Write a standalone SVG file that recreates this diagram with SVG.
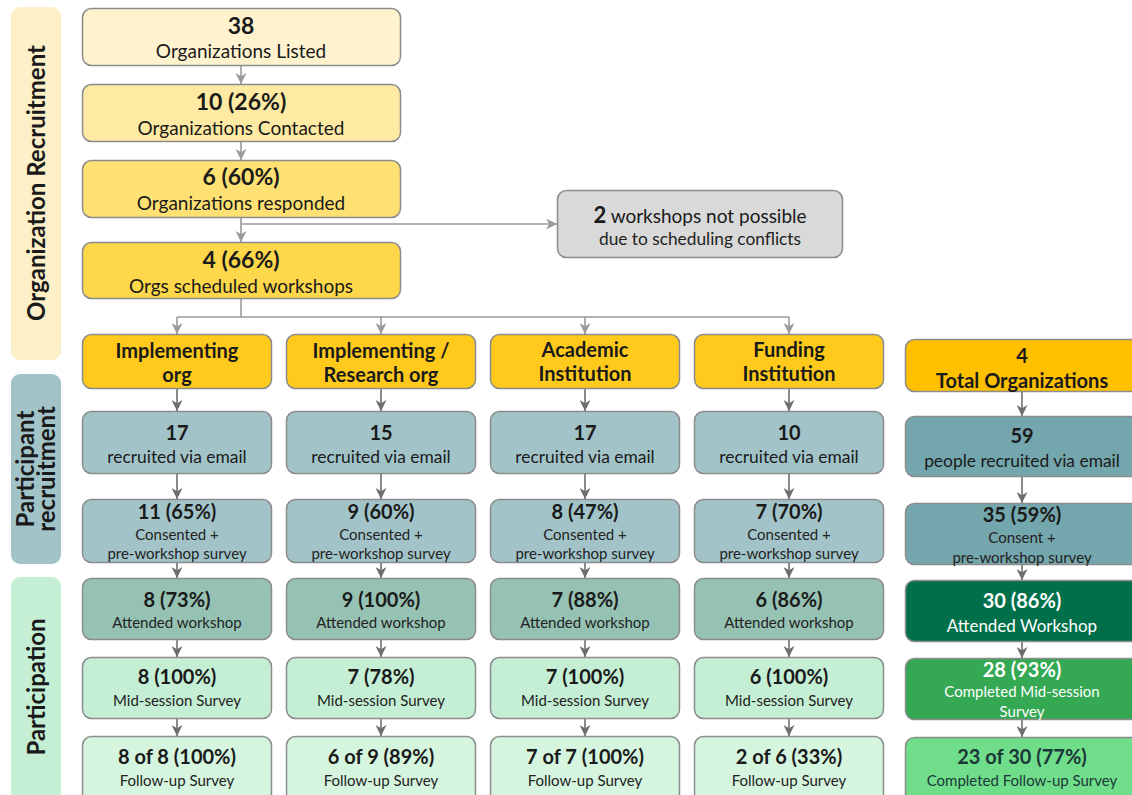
<svg xmlns="http://www.w3.org/2000/svg" width="1132" height="795" viewBox="0 0 1132 795">
  <style>
    text { font-family: Lato, "Noto Sans", sans-serif; text-anchor: middle; fill: #1a1a1a; }
    .b { font-weight: 700; }
    .t1 { font-size: 23px; font-weight: 700; }
    .t2 { font-size: 19px; }
    .rv { font-size: 17.4px; }
    .n { font-size: 20px; font-weight: 700; }
    .s { font-size: 17.3px; fill: #222; }
    .xs { font-size: 15px; fill: #222; }
    .hd { font-size: 20px; font-weight: 700; }
    .side { font-size: 24px; font-weight: 700; }
    .box { stroke: #8c8c8c; stroke-width: 1.5; }
    .w { fill: #ffffff; }
    .con { fill: none; stroke-width: 1.6; }
    .lt { stroke: #9a9a9a; }
    .dk { stroke: #6e6e6e; }
  </style>
  <defs>
    <marker id="arrLt" viewBox="0 0 10 10" refX="10" refY="5" markerWidth="11" markerHeight="11" markerUnits="userSpaceOnUse" orient="auto">
      <path d="M0,0 L10,5 L0,10 L3,5 z" fill="#9a9a9a"/>
    </marker>
    <marker id="arrDk" viewBox="0 0 10 10" refX="10" refY="5" markerWidth="11" markerHeight="11" markerUnits="userSpaceOnUse" orient="auto">
      <path d="M0,0 L10,5 L0,10 L3,5 z" fill="#6e6e6e"/>
    </marker>
  </defs>

  <rect width="1132" height="795" fill="#ffffff"/>

  <!-- stage bands -->
  <g id="band-org">
    <rect x="11" y="7" width="50" height="353" rx="9" fill="#fdf0c8"/>
    <text class="side" transform="translate(45,183) rotate(-90)">Organization Recruitment</text>
  </g>
  <g id="band-participant">
    <rect x="11" y="374" width="50" height="190" rx="9" fill="#a2c4c9"/>
    <text class="side" transform="translate(34,469) rotate(-90)">Participant</text>
    <text class="side" transform="translate(55,469) rotate(-90)">recruitment</text>
  </g>
  <g id="band-participation">
    <rect x="11" y="577" width="50" height="230" rx="9" fill="#c5efd5"/>
    <text class="side" transform="translate(45,687) rotate(-90)">Participation</text>
  </g>

  <!-- connectors -->
  <g id="connectors">
    <line class="con lt" x1="241" y1="66" x2="241" y2="84" marker-end="url(#arrLt)"/>
    <line class="con lt" x1="241" y1="142" x2="241" y2="160" marker-end="url(#arrLt)"/>
    <line class="con lt" x1="241" y1="218" x2="241" y2="242" marker-end="url(#arrLt)"/>
    <polyline class="con lt" points="241,224 557,224" marker-end="url(#arrLt)"/>
    <line class="con lt" x1="241" y1="299" x2="241" y2="317"/>
    <line class="con lt" x1="177" y1="317" x2="789" y2="317"/>
    <line class="con lt" x1="177" y1="317" x2="177" y2="334" marker-end="url(#arrLt)"/>
    <line class="con lt" x1="381" y1="317" x2="381" y2="334" marker-end="url(#arrLt)"/>
    <line class="con lt" x1="585" y1="317" x2="585" y2="334" marker-end="url(#arrLt)"/>
    <line class="con lt" x1="789" y1="317" x2="789" y2="334" marker-end="url(#arrLt)"/>

    <!-- per-organization columns -->
    <g id="col-arrows">
      <line class="con dk" x1="177" y1="389" x2="177" y2="411" marker-end="url(#arrDk)"/>
      <line class="con dk" x1="177" y1="474" x2="177" y2="499" marker-end="url(#arrDk)"/>
      <line class="con dk" x1="177" y1="563" x2="177" y2="578" marker-end="url(#arrDk)"/>
      <line class="con dk" x1="177" y1="640" x2="177" y2="657" marker-end="url(#arrDk)"/>
      <line class="con dk" x1="177" y1="719" x2="177" y2="736" marker-end="url(#arrDk)"/>

      <line class="con dk" x1="381" y1="389" x2="381" y2="411" marker-end="url(#arrDk)"/>
      <line class="con dk" x1="381" y1="474" x2="381" y2="499" marker-end="url(#arrDk)"/>
      <line class="con dk" x1="381" y1="563" x2="381" y2="578" marker-end="url(#arrDk)"/>
      <line class="con dk" x1="381" y1="640" x2="381" y2="657" marker-end="url(#arrDk)"/>
      <line class="con dk" x1="381" y1="719" x2="381" y2="736" marker-end="url(#arrDk)"/>

      <line class="con dk" x1="585" y1="389" x2="585" y2="411" marker-end="url(#arrDk)"/>
      <line class="con dk" x1="585" y1="474" x2="585" y2="499" marker-end="url(#arrDk)"/>
      <line class="con dk" x1="585" y1="563" x2="585" y2="578" marker-end="url(#arrDk)"/>
      <line class="con dk" x1="585" y1="640" x2="585" y2="657" marker-end="url(#arrDk)"/>
      <line class="con dk" x1="585" y1="719" x2="585" y2="736" marker-end="url(#arrDk)"/>

      <line class="con dk" x1="789" y1="389" x2="789" y2="411" marker-end="url(#arrDk)"/>
      <line class="con dk" x1="789" y1="474" x2="789" y2="499" marker-end="url(#arrDk)"/>
      <line class="con dk" x1="789" y1="563" x2="789" y2="578" marker-end="url(#arrDk)"/>
      <line class="con dk" x1="789" y1="640" x2="789" y2="657" marker-end="url(#arrDk)"/>
      <line class="con dk" x1="789" y1="719" x2="789" y2="736" marker-end="url(#arrDk)"/>

      <line class="con dk" x1="1022" y1="387" x2="1022" y2="416" marker-end="url(#arrDk)"/>
      <line class="con dk" x1="1022" y1="477" x2="1022" y2="503" marker-end="url(#arrDk)"/>
      <line class="con dk" x1="1022" y1="565" x2="1022" y2="580" marker-end="url(#arrDk)"/>
      <line class="con dk" x1="1022" y1="642" x2="1022" y2="658" marker-end="url(#arrDk)"/>
      <line class="con dk" x1="1022" y1="720" x2="1022" y2="737" marker-end="url(#arrDk)"/>
    </g>
  </g>

  <!-- organization funnel -->
  <g id="n-listed">
    <rect class="box" x="82.5" y="8.5" width="318" height="57" rx="9" fill="#fff3cf"/>
    <text class="t1" x="241" y="34">38</text>
    <text class="t2" x="241" y="58">Organizations Listed</text>
  </g>
  <g id="n-contacted">
    <rect class="box" x="82.5" y="84.5" width="318" height="57" rx="9" fill="#feeaa2"/>
    <text class="t1" x="241" y="110">10 (26%)</text>
    <text class="t2" x="241" y="135">Organizations Contacted</text>
  </g>
  <g id="n-responded">
    <rect class="box" x="82.5" y="160.5" width="318" height="57" rx="9" fill="#fee172"/>
    <text class="t1" x="241" y="185">6 (60%)</text>
    <text class="t2" x="241" y="210">Organizations responded</text>
  </g>
  <g id="n-scheduled">
    <rect class="box" x="82.5" y="242.5" width="318" height="56" rx="9" fill="#fed84a"/>
    <text class="t1" x="241" y="268">4 (66%)</text>
    <text class="t2" x="241" y="293">Orgs scheduled workshops</text>
  </g>
  <g id="n-conflicts">
    <rect class="box" x="557.5" y="190.5" width="285" height="67" rx="9" fill="#d9d9d9"/>
    <text class="t2" x="700" y="223"><tspan class="b" font-size="22">2</tspan> workshops not possible</text>
    <text class="s" x="700" y="245">due to scheduling conflicts</text>
  </g>

  <!-- organization types -->
  <g id="h-impl">
    <rect class="box" x="82.5" y="334.5" width="189" height="54" rx="9" fill="#ffca1c"/>
    <text class="hd" x="177" y="358">Implementing</text>
    <text class="hd" x="177" y="382">org</text>
  </g>
  <g id="h-impl-research">
    <rect class="box" x="286.5" y="334.5" width="189" height="54" rx="9" fill="#ffca1c"/>
    <text class="hd" x="381" y="358">Implementing /</text>
    <text class="hd" x="381" y="382">Research org</text>
  </g>
  <g id="h-academic">
    <rect class="box" x="490.5" y="334.5" width="189" height="54" rx="9" fill="#ffca1c"/>
    <text class="hd" x="585" y="357">Academic</text>
    <text class="hd" x="585" y="381">Institution</text>
  </g>
  <g id="h-funding">
    <rect class="box" x="694.5" y="334.5" width="189" height="54" rx="9" fill="#ffca1c"/>
    <text class="hd" x="789" y="357">Funding</text>
    <text class="hd" x="789" y="381">Institution</text>
  </g>
  <g id="h-total">
    <rect class="box" x="905.5" y="339.5" width="234" height="52" rx="9" fill="#ffc000"/>
    <text class="hd" x="1022" y="363">4</text>
    <text class="hd" x="1022" y="388">Total Organizations</text>
  </g>

  <!-- recruited -->
  <g id="r-impl">
    <rect class="box" x="82.5" y="411.5" width="189" height="62" rx="9" fill="#a2c4c9"/>
    <text class="n" x="177" y="440">17</text>
    <text class="rv" x="177" y="463">recruited via email</text>
  </g>
  <g id="r-impl-research">
    <rect class="box" x="286.5" y="411.5" width="189" height="62" rx="9" fill="#a2c4c9"/>
    <text class="n" x="381" y="440">15</text>
    <text class="rv" x="381" y="463">recruited via email</text>
  </g>
  <g id="r-academic">
    <rect class="box" x="490.5" y="411.5" width="189" height="62" rx="9" fill="#a2c4c9"/>
    <text class="n" x="585" y="440">17</text>
    <text class="rv" x="585" y="463">recruited via email</text>
  </g>
  <g id="r-funding">
    <rect class="box" x="694.5" y="411.5" width="189" height="62" rx="9" fill="#a2c4c9"/>
    <text class="n" x="789" y="440">10</text>
    <text class="rv" x="789" y="463">recruited via email</text>
  </g>
  <g id="r-total">
    <rect class="box" x="905.5" y="416.5" width="234" height="60" rx="9" fill="#74a6ad"/>
    <text class="n" x="1022" y="443">59</text>
    <text class="rv" x="1022" y="467">people recruited via email</text>
  </g>

  <!-- consented -->
  <g id="c-impl">
    <rect class="box" x="82.5" y="499.5" width="189" height="63" rx="9" fill="#a2c4c9"/>
    <text class="n" x="177" y="519">11 (65%)</text>
    <text class="xs" x="177" y="540">Consented +</text>
    <text class="xs" x="177" y="559">pre-workshop survey</text>
  </g>
  <g id="c-impl-research">
    <rect class="box" x="286.5" y="499.5" width="189" height="63" rx="9" fill="#a2c4c9"/>
    <text class="n" x="381" y="519">9 (60%)</text>
    <text class="xs" x="381" y="540">Consented +</text>
    <text class="xs" x="381" y="559">pre-workshop survey</text>
  </g>
  <g id="c-academic">
    <rect class="box" x="490.5" y="499.5" width="189" height="63" rx="9" fill="#a2c4c9"/>
    <text class="n" x="585" y="519">8 (47%)</text>
    <text class="xs" x="585" y="540">Consented +</text>
    <text class="xs" x="585" y="559">pre-workshop survey</text>
  </g>
  <g id="c-funding">
    <rect class="box" x="694.5" y="499.5" width="189" height="63" rx="9" fill="#a2c4c9"/>
    <text class="n" x="789" y="519">7 (70%)</text>
    <text class="xs" x="789" y="540">Consented +</text>
    <text class="xs" x="789" y="559">pre-workshop survey</text>
  </g>
  <g id="c-total">
    <rect class="box" x="905.5" y="503.5" width="234" height="61" rx="9" fill="#74a6ad"/>
    <text class="n" x="1022" y="522">35 (59%)</text>
    <text class="xs" x="1022" y="543">Consent +</text>
    <text class="xs" x="1022" y="563">pre-workshop survey</text>
  </g>

  <!-- attended -->
  <g id="a-impl">
    <rect class="box" x="82.5" y="578.5" width="189" height="61" rx="9" fill="#96c2b3"/>
    <text class="n" x="177" y="607">8 (73%)</text>
    <text class="xs" x="177" y="628">Attended workshop</text>
  </g>
  <g id="a-impl-research">
    <rect class="box" x="286.5" y="578.5" width="189" height="61" rx="9" fill="#96c2b3"/>
    <text class="n" x="381" y="607">9 (100%)</text>
    <text class="xs" x="381" y="628">Attended workshop</text>
  </g>
  <g id="a-academic">
    <rect class="box" x="490.5" y="578.5" width="189" height="61" rx="9" fill="#96c2b3"/>
    <text class="n" x="585" y="607">7 (88%)</text>
    <text class="xs" x="585" y="628">Attended workshop</text>
  </g>
  <g id="a-funding">
    <rect class="box" x="694.5" y="578.5" width="189" height="61" rx="9" fill="#96c2b3"/>
    <text class="n" x="789" y="607">6 (86%)</text>
    <text class="xs" x="789" y="628">Attended workshop</text>
  </g>
  <g id="a-total">
    <rect class="box" x="905.5" y="580.5" width="234" height="61" rx="9" fill="#00704a"/>
    <text class="n w" x="1022" y="608">30 (86%)</text>
    <text class="w" font-size="17" x="1022" y="632">Attended Workshop</text>
  </g>

  <!-- mid-session survey -->
  <g id="m-impl">
    <rect class="box" x="82.5" y="657.5" width="189" height="61" rx="9" fill="#c5efd5"/>
    <text class="n" x="177" y="684">8 (100%)</text>
    <text class="xs" x="177" y="706">Mid-session Survey</text>
  </g>
  <g id="m-impl-research">
    <rect class="box" x="286.5" y="657.5" width="189" height="61" rx="9" fill="#c5efd5"/>
    <text class="n" x="381" y="684">7 (78%)</text>
    <text class="xs" x="381" y="706">Mid-session Survey</text>
  </g>
  <g id="m-academic">
    <rect class="box" x="490.5" y="657.5" width="189" height="61" rx="9" fill="#c5efd5"/>
    <text class="n" x="585" y="684">7 (100%)</text>
    <text class="xs" x="585" y="706">Mid-session Survey</text>
  </g>
  <g id="m-funding">
    <rect class="box" x="694.5" y="657.5" width="189" height="61" rx="9" fill="#c5efd5"/>
    <text class="n" x="789" y="684">6 (100%)</text>
    <text class="xs" x="789" y="706">Mid-session Survey</text>
  </g>
  <g id="m-total">
    <rect class="box" x="905.5" y="658.5" width="234" height="61" rx="9" fill="#34a853"/>
    <text class="n w" x="1022" y="677">28 (93%)</text>
    <text class="xs w" x="1022" y="697">Completed Mid-session</text>
    <text class="xs w" x="1022" y="717">Survey</text>
  </g>

  <!-- follow-up survey -->
  <g id="f-impl">
    <rect class="box" x="82.5" y="736.5" width="189" height="70" rx="9" fill="#d6f5df"/>
    <text class="n" x="177" y="764">8 of 8 (100%)</text>
    <text class="xs" x="177" y="786">Follow-up Survey</text>
  </g>
  <g id="f-impl-research">
    <rect class="box" x="286.5" y="736.5" width="189" height="70" rx="9" fill="#d6f5df"/>
    <text class="n" x="381" y="764">6 of 9 (89%)</text>
    <text class="xs" x="381" y="786">Follow-up Survey</text>
  </g>
  <g id="f-academic">
    <rect class="box" x="490.5" y="736.5" width="189" height="70" rx="9" fill="#d6f5df"/>
    <text class="n" x="585" y="764">7 of 7 (100%)</text>
    <text class="xs" x="585" y="786">Follow-up Survey</text>
  </g>
  <g id="f-funding">
    <rect class="box" x="694.5" y="736.5" width="189" height="70" rx="9" fill="#d6f5df"/>
    <text class="n" x="789" y="764">2 of 6 (33%)</text>
    <text class="xs" x="789" y="786">Follow-up Survey</text>
  </g>
  <g id="f-total">
    <rect class="box" x="905.5" y="737.5" width="234" height="70" rx="9" fill="#70dd8a"/>
    <text class="n" x="1022" y="764" style="fill:#1b3838">23 of 30 (77%)</text>
    <text class="xs" x="1022" y="786" style="fill:#1b3838">Completed Follow-up Survey</text>
  </g>
</svg>
